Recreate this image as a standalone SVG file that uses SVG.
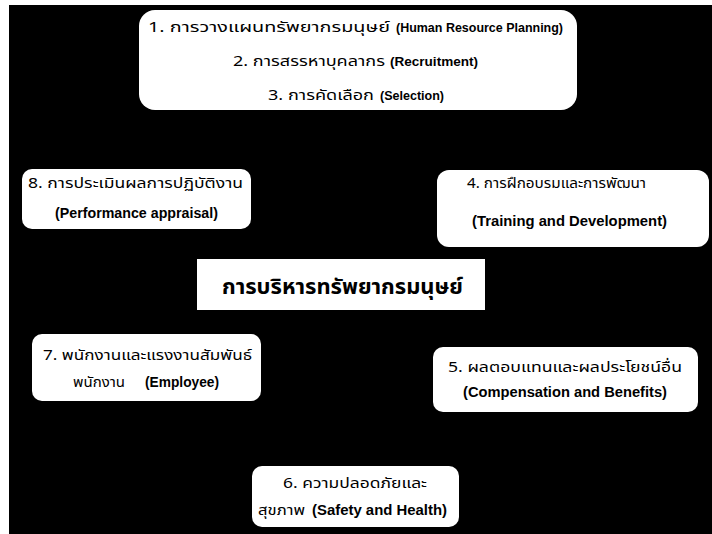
<svg xmlns="http://www.w3.org/2000/svg" width="712" height="534" viewBox="0 0 712 534">
<style>
.box{fill:#fff;stroke:none}
.th{font-family:"Noto Sans Thai","Liberation Sans","Noto Sans",sans-serif;font-size:14px;font-weight:normal;fill:#000}
.en{font-family:"Liberation Sans","Noto Sans",sans-serif;font-size:14px;font-weight:bold;fill:#000}
.sm{font-size:12.5px}
.main{font-family:"Noto Sans Thai","Liberation Sans","Noto Sans",sans-serif;font-size:21px;font-weight:bold;fill:#000}
</style>
<rect x="0" y="0" width="712" height="534" fill="#fff"/>
<rect x="9" y="5" width="703" height="529" fill="#000"/>
<g id="connectors"/>
<g id="n1">
<rect class="box" x="139" y="10" width="438" height="100" rx="16"/>
<text class="th" x="148" y="32" textLength="242" lengthAdjust="spacingAndGlyphs">1. การวางแผนทรัพยากรมนุษย์</text>
<text class="en sm" x="396" y="32" textLength="167" lengthAdjust="spacingAndGlyphs">(Human Resource Planning)</text>
<text class="th" x="233" y="66" textLength="152" lengthAdjust="spacingAndGlyphs">2. การสรรหาบุคลากร</text>
<text class="en sm" x="390" y="66" textLength="88" lengthAdjust="spacingAndGlyphs">(Recruitment)</text>
<text class="th" x="268" y="100" textLength="106" lengthAdjust="spacingAndGlyphs">3. การคัดเลือก</text>
<text class="en sm" x="380" y="100" textLength="64" lengthAdjust="spacingAndGlyphs">(Selection)</text>
</g>
<g id="n8">
<rect class="box" x="22" y="169" width="229" height="60" rx="10"/>
<text class="th" x="28" y="188" textLength="215" lengthAdjust="spacingAndGlyphs">8. การประเมินผลการปฏิบัติงาน</text>
<text class="en" x="55" y="218" textLength="163" lengthAdjust="spacingAndGlyphs">(Performance appraisal)</text>
</g>
<g id="n4">
<rect class="box" x="437" y="170" width="272" height="77" rx="12"/>
<text class="th" x="467" y="188" textLength="179" lengthAdjust="spacingAndGlyphs">4. การฝึกอบรมและการพัฒนา</text>
<text class="en" x="472" y="226" textLength="195" lengthAdjust="spacingAndGlyphs">(Training and Development)</text>
</g>
<g id="center">
<rect class="box" x="197" y="259" width="288" height="51"/>
<text class="main" x="222" y="294" textLength="241" lengthAdjust="spacingAndGlyphs">การบริหารทรัพยากรมนุษย์</text>
</g>
<g id="n7">
<rect class="box" x="32" y="334" width="229" height="67" rx="10"/>
<text class="th" x="43" y="360" textLength="209" lengthAdjust="spacingAndGlyphs">7. พนักงานและแรงงานสัมพันธ์</text>
<text class="th" x="73" y="387" textLength="52" lengthAdjust="spacingAndGlyphs">พนักงาน</text>
<text class="en" x="145" y="387" textLength="74" lengthAdjust="spacingAndGlyphs">(Employee)</text>
</g>
<g id="n5">
<rect class="box" x="433" y="347" width="265" height="65" rx="10"/>
<text class="th" x="448" y="372" textLength="234" lengthAdjust="spacingAndGlyphs">5. ผลตอบแทนและผลประโยชน์อื่น</text>
<text class="en" x="463" y="397" textLength="204" lengthAdjust="spacingAndGlyphs">(Compensation and Benefits)</text>
</g>
<g id="n6">
<rect class="box" x="252" y="466" width="207" height="61" rx="10"/>
<text class="th" x="283" y="488" textLength="144" lengthAdjust="spacingAndGlyphs">6. ความปลอดภัยและ</text>
<text class="th" x="258" y="515" textLength="47" lengthAdjust="spacingAndGlyphs">สุขภาพ</text>
<text class="en" x="312" y="515" textLength="135" lengthAdjust="spacingAndGlyphs">(Safety and Health)</text>
</g>
</svg>
